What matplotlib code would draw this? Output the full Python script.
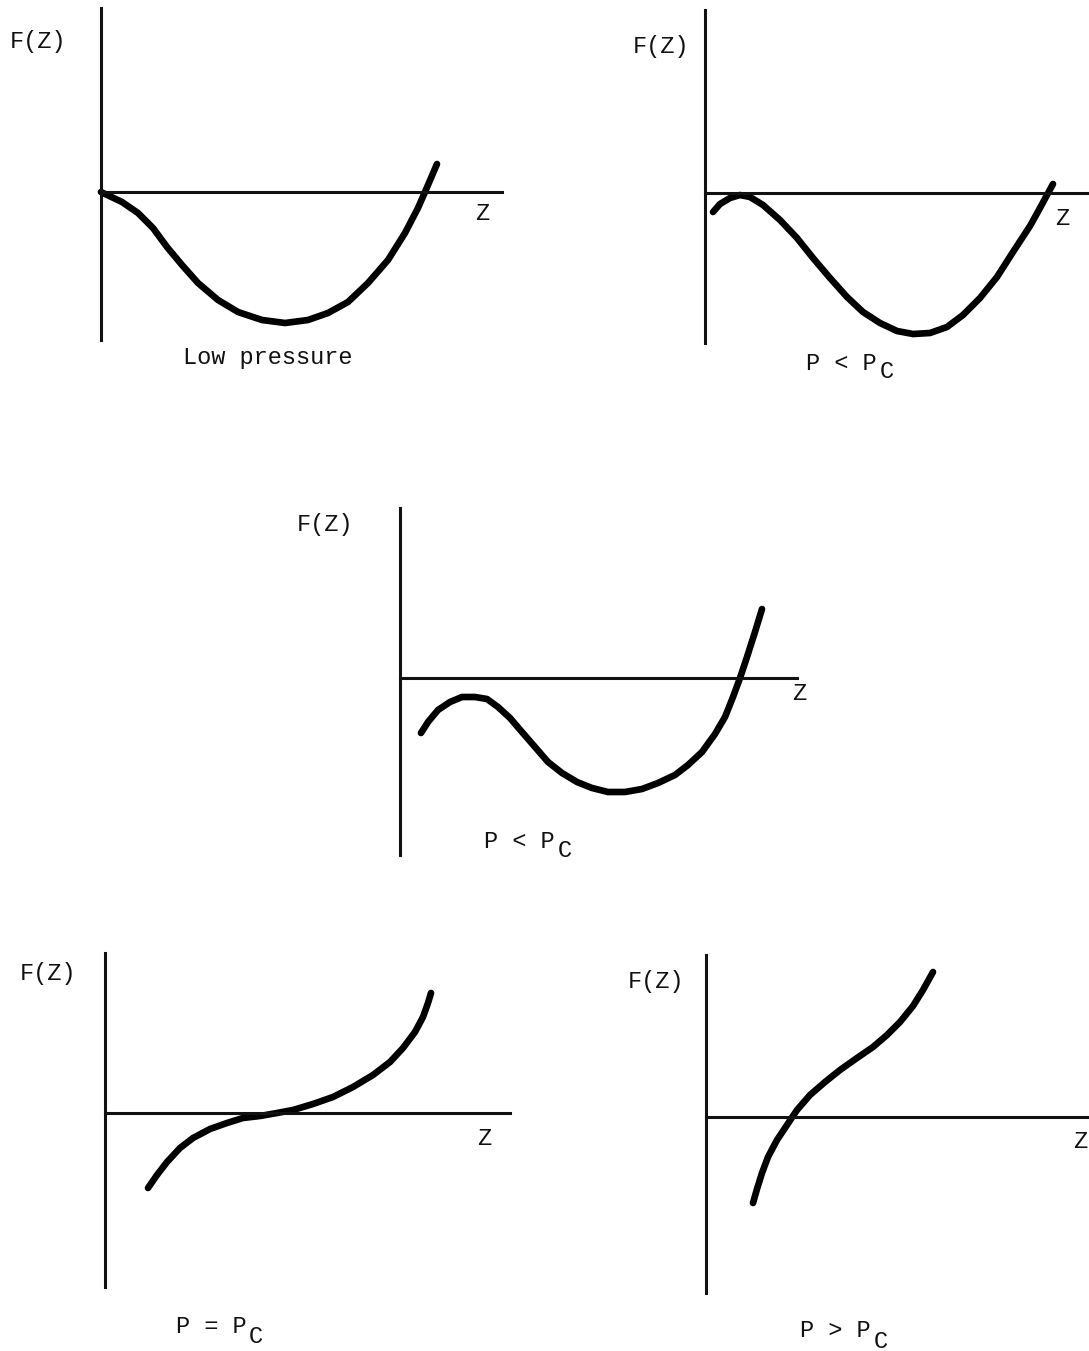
"""
Sketches of F(Z) against Z for the cubic equation of state at
different pressures, redrawn from a typewritten scan.
"""
import matplotlib
matplotlib.use("Agg")
import matplotlib.pyplot as plt
from matplotlib.transforms import Affine2D

W, H = 1089, 1351

low_z = [0, 2, 21, 37, 52, 66, 81, 97, 117, 137, 161, 184, 207, 227, 247, 267, 287, 304, 317, 324, 330, 336]
low_f = [0, -1, -10, -21, -36, -55, -73, -91, -108, -120, -128, -131, -128, -121, -110, -91, -68, -41, -16, 0, 14, 28]

below_a_z = [8, 15, 25, 35, 45, 58, 75, 92, 108, 125, 142, 158, 175, 192, 208, 225, 242, 258, 275, 292, 308, 325, 335, 342, 348]
below_a_f = [-19, -11, -5, -2, -4, -12, -27, -45, -65, -85, -104, -119, -130, -138, -141, -140, -134, -122, -105, -84, -59, -33, -15, -2, 9]

below_b_z = [21, 28, 38, 50, 62, 75, 87, 98, 110, 122, 135, 148, 162, 177, 192, 208, 225, 242, 258, 275, 288, 302, 315, 325, 333, 340, 347, 355, 362]
below_b_f = [-55, -44, -32, -24, -19, -19, -21, -29, -40, -54, -69, -84, -95, -104, -110, -114, -114, -111, -105, -97, -87, -74, -56, -39, -19, 0, 21, 46, 69]

crit_z = [43, 52, 62, 75, 88, 105, 122, 138, 155, 172, 188, 208, 228, 248, 268, 285, 298, 310, 318, 323, 326]
crit_f = [-75, -62, -49, -35, -25, -16, -10, -5, -3, 0, 3, 9, 16, 26, 38, 51, 65, 81, 96, 110, 120]

above_z = [47, 51, 56, 62, 71, 81, 91, 104, 119, 134, 151, 167, 181, 194, 207, 217, 227]
above_f = [-86, -72, -56, -40, -23, -8, 7, 22, 35, 47, 59, 70, 82, 95, 111, 127, 145]

# panel frames in image pixels: origin, top/bottom of F axis, end of Z axis
panels = [
    dict(origin=(101, 192), top=8, bottom=340, right=502, z=low_z, f=low_f),
    dict(origin=(705, 193), top=10, bottom=343, right=1095, z=below_a_z, f=below_a_f),
    dict(origin=(400, 678), top=508, bottom=855, right=797, z=below_b_z, f=below_b_f),
    dict(origin=(105, 1113), top=953, bottom=1287, right=510, z=crit_z, f=crit_f),
    dict(origin=(706, 1117), top=955, bottom=1293, right=1095, z=above_z, f=above_f),
]

# (text, left x, baseline y) in image pixels
labels = [
    ("F(Z)", 10, 48), ("Z", 475, 220), ("Low pressure", 183, 364),
    ("F(Z)", 633, 53), ("Z", 1055, 225), ("P < P", 806, 370), ("C", 880, 378),
    ("F(Z)", 297, 531), ("Z", 792, 700), ("P < P", 484, 848), ("C", 558, 857),
    ("F(Z)", 20, 980), ("Z", 477, 1145), ("P = P", 176, 1333), ("C", 249, 1343),
    ("F(Z)", 628, 988), ("Z", 1073, 1148), ("P > P", 800, 1337), ("C", 874, 1348),
]

fig = plt.figure(figsize=(W / 100, H / 100), dpi=100)
fig.patch.set_facecolor("white")
px = Affine2D().scale(1, -1).translate(0, H)  # image pixels (y down) -> display

for p in panels:
    ox, oy = p["origin"]
    ax = fig.add_axes([ox / W, (H - p["bottom"]) / H,
                       (p["right"] - ox) / W, (p["bottom"] - p["top"]) / H])
    ax.set_xlim(0, p["right"] - ox)
    ax.set_ylim(oy - p["bottom"], oy - p["top"])
    ax.patch.set_visible(False)
    ax.spines[["top", "right"]].set_visible(False)
    ax.spines["bottom"].set_position(("data", 0))
    for s in ("left", "bottom"):
        ax.spines[s].set_linewidth(2.2)
        ax.spines[s].set_color("#111111")
    ax.set_xticks([]); ax.set_yticks([])
    ax.plot(p["z"], p["f"], color="black", lw=4.8, solid_capstyle="round",
            solid_joinstyle="round", clip_on=False)

for s, x, y in labels:
    fig.text(x, y, s, transform=px, ha="left", va="baseline",
             family="Liberation Mono", fontsize=17, color="#111111")

fig.savefig("out.png", dpi=100, facecolor="white")
